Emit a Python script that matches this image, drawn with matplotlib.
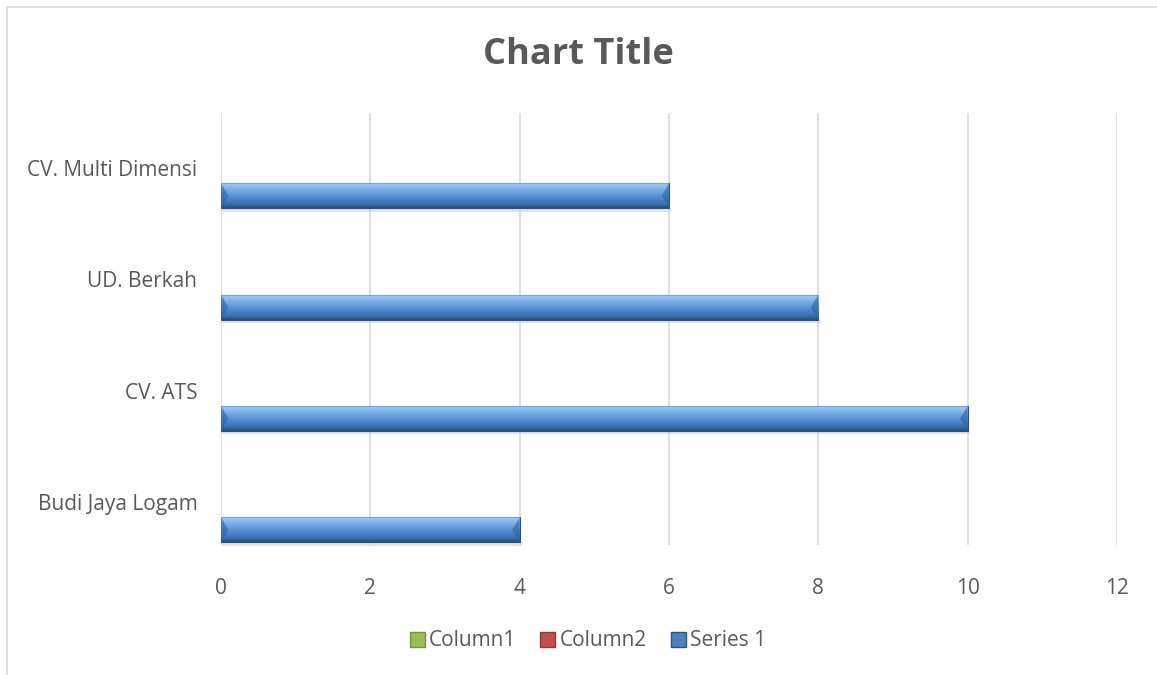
import matplotlib
matplotlib.use("Agg")
import matplotlib.pyplot as plt
import numpy as np
from matplotlib.colors import LinearSegmentedColormap
from matplotlib.patches import Patch
from matplotlib.lines import Line2D

# data
categories = ["Budi Jaya Logam", "CV. ATS", "UD. Berkah", "CV. Multi Dimensi"]
series_1 = [4, 10, 8, 6]
column_1 = [0, 0, 0, 0]
column_2 = [0, 0, 0, 0]
x_ticks = [0, 2, 4, 6, 8, 10, 12]

grey_txt = "#595959"
plt.rcParams["font.family"] = ["Open Sans", "DejaVu Sans"]

fig = plt.figure(figsize=(11.57, 6.75), dpi=100)
ax = fig.add_axes([221/1157, 1-545/675, (1117-221)/1157, (545-113)/675])

y = np.arange(len(categories))
h = 0.225
off = 0.25

# bevelled blue gradient
cmap = LinearSegmentedColormap.from_list("bev", [
    (0.0, "#3f74b5"), (0.08, "#9cc6f0"), (0.3, "#77aee6"),
    (0.6, "#4f8ad0"), (0.85, "#3a6fae"), (1.0, "#24507f")])
grad = np.linspace(0, 1, 64).reshape(-1, 1)

bars = ax.barh(y - off, series_1, height=h, color="#4f81bd", edgecolor="#2a5283", lw=0.8, zorder=3)
ax.barh(y, column_1, height=h, color="#9bbb59", zorder=3)
ax.barh(y + off, column_2, height=h, color="#c0504d", zorder=3)
for b in bars:
    x0, y0, w, hh = b.get_x(), b.get_y(), b.get_width(), b.get_height()
    im = ax.imshow(grad, cmap=cmap, aspect="auto", extent=(x0, x0 + w, y0, y0 + hh),
                   origin="upper", zorder=3.5, interpolation="bilinear")
    im.set_clip_path(b)
    # bevel ends
    ax.fill([x0, x0 + 0.1, x0], [y0 + hh, y0 + hh/2, y0], color="#2f619e", alpha=0.6, zorder=3.6, lw=0)
    ax.fill([x0 + w, x0 + w - 0.1, x0 + w], [y0 + hh, y0 + hh/2, y0], color="#2f619e", alpha=0.6, zorder=3.6, lw=0)
    # soft shadow
    ax.fill_between([x0 + 0.02, x0 + w + 0.03], y0 - 0.03, y0, color="#c8c8c8", alpha=0.5, lw=0, zorder=2.5)

ax.set_xlim(0, 12)
ax.set_ylim(-0.386, 3.495)
ax.set_xticks(x_ticks)
ax.set_yticks(y)
ax.set_yticklabels(categories)
ax.tick_params(length=0, labelsize=15, colors=grey_txt)
ax.tick_params(axis="x", pad=24)
ax.tick_params(axis="y", pad=17)
ax.xaxis.grid(True, color="#d9d9d9", lw=1.2, zorder=0)
for s in ax.spines.values():
    s.set_visible(False)

fig.text(0.5, 1-55/675, "Chart Title", ha="center", va="center", fontsize=26,
         fontweight="bold", color=grey_txt)

handles = [Patch(facecolor="#9bbb59", edgecolor="#76923c"),
           Patch(facecolor="#c0504d", edgecolor="#943634"),
           Patch(facecolor="#4f81bd", edgecolor="#2a5283")]
fig.legend(handles, ["Column1", "Column2", "Series 1"], loc="center", ncol=3,
           bbox_to_anchor=(0.508, 1-641/675), frameon=False, fontsize=15,
           labelcolor=grey_txt, handlelength=0.72, handleheight=0.72,
           handletextpad=0.2, columnspacing=1.15)

# chart frame
fig.add_artist(Line2D([7/1157, 1], [1-7/675, 1-7/675], color="#d9d9d9", lw=1.2))
fig.add_artist(Line2D([7/1157, 7/1157], [0, 1-7/675], color="#d9d9d9", lw=1.2))

fig.savefig("out.png", dpi=100)
